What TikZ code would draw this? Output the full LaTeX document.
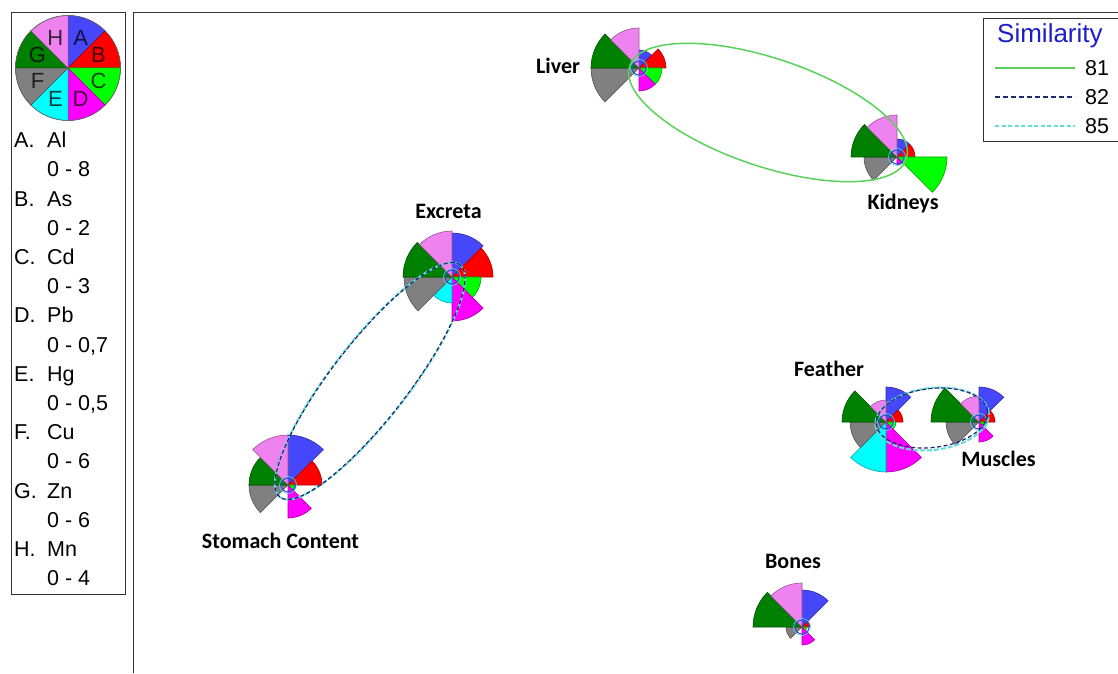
\documentclass[tikz,border=0pt]{standalone}
\usepackage{fontspec}
\usetikzlibrary{calc}
\setmainfont{Liberation Sans}
\newfontfamily\labelfont{Carlito}
\definecolor{segA}{RGB}{70,70,250}
\definecolor{segB}{RGB}{255,0,0}
\definecolor{segC}{RGB}{0,255,0}
\definecolor{segD}{RGB}{255,0,255}
\definecolor{segE}{RGB}{0,255,255}
\definecolor{segF}{RGB}{128,128,128}
\definecolor{segG}{RGB}{0,128,0}
\definecolor{segH}{RGB}{238,130,238}
\definecolor{simgreen}{RGB}{90,210,90}
\definecolor{simnavy}{RGB}{30,40,110}
\definecolor{simcyan}{RGB}{100,220,220}
\definecolor{ringblue}{RGB}{40,80,220}
\definecolor{simtitle}{RGB}{30,30,200}
\newcommand\segglyph[9]{%
  \foreach \r/\c [count=\i from 0] in {#2/segA,#3/segB,#4/segC,#5/segD,#6/segE,#7/segF,#8/segG,#9/segH}{%
    \ifdim\r pt>0pt
      \pgfmathsetmacro\sa{90-45*\i}
      \filldraw[fill=\c, draw=\c!65!black, line width=0.6pt] (#1) -- ++(\sa:\r) arc[start angle=\sa, delta angle=-45, radius=\r] -- cycle;
    \fi
  }%
  \draw[simcyan, line width=0.6pt] (#1) circle[radius=8.5];
  \draw[ringblue, line width=1pt] (#1) circle[radius=7];
}
\begin{document}
\begin{tikzpicture}[x=1pt,y=1pt,
  lbl/.style={font=\labelfont\bfseries\fontsize{22}{26}\selectfont, anchor=base, inner sep=0pt},
  legtxt/.style={font=\fontsize{21.5}{26}\selectfont, anchor=base west, inner sep=0pt},
  pieletter/.style={font=\fontsize{22}{24}\selectfont, inner sep=0pt},
  frame/.style={draw=black!80, line width=0.8pt},
  simA/.style={draw=simgreen, line width=1.5pt},
  simB/.style={draw=simnavy, line width=1.2pt, dash pattern=on 4pt off 2.5pt},
  simC/.style={draw=simcyan, line width=2pt, dash pattern=on 5pt off 2pt}]
\useasboundingbox (0,0) rectangle (1118,673);
\fill[white] (0,0) rectangle (1118,673);

% frames
\draw[frame] (133,0) -- (133,661) -- (1118,661);
\draw[frame] (11,79) rectangle (125,661);
\draw[frame] (1118,655) -- (983,655) -- (983,532) -- (1118,532);

% pie legend
\coordinate (pie) at (68,605);
\foreach \c/\L [count=\i from 0] in {segA/A,segB/B,segC/C,segD/D,segE/E,segF/F,segG/G,segH/H}{%
  \pgfmathsetmacro\sa{90-45*\i}
  \filldraw[fill=\c, draw=\c!60!black, line width=0.5pt] (pie) -- ++(\sa:52.5) arc[start angle=\sa, delta angle=-45, radius=52.5] -- cycle;
  \node[pieletter, text=\c!25!black] (pl\L) at ($(pie)+(\sa-22.5:33)$) {\L};
}
\draw[black!60, line width=0.6pt] (pie) circle[radius=52.5];

% legend text
\foreach \lab/\el/\rng [count=\k from 0] in {A./Al/{0 - 8},B./As/{0 - 2},C./Cd/{0 - 3},D./Pb/{0 - 0,7},E./Hg/{0 - 0,5},F./Cu/{0 - 6},G./Zn/{0 - 6},H./Mn/{0 - 4}}{%
  \pgfmathsetmacro\ya{673-(147.7+58.4*\k)}
  \pgfmathsetmacro\yb{673-(176.9+58.4*\k)}
  \node[legtxt] (lk\k) at (14,\ya) {\lab};
  \node[legtxt] (le\k) at (47,\ya) {\el};
  \node[legtxt] (lr\k) at (47,\yb) {\rng};
}

% similarity legend
\node[font=\fontsize{26}{30}\selectfont, text=simtitle, anchor=base west, inner sep=0pt] (simt) at (997,630) {Similarity};
\coordinate (sa1) at (995,605); \coordinate (sa2) at (1075,605);
\coordinate (sb1) at (995,576); \coordinate (sb2) at (1075,576);
\coordinate (sc1) at (995,547); \coordinate (sc2) at (1075,547);
\draw[draw=simgreen, line width=1.3pt] (sa1) -- (sa2);
\draw[draw=simnavy, line width=1.1pt, dash pattern=on 5pt off 3pt] (sb1) -- (sb2);
\draw[draw=simcyan, line width=1.4pt, dash pattern=on 4pt off 2.5pt] (sc1) -- (sc2);
\node[legtxt, anchor=west] (n81) at (1085,605) {81};
\node[legtxt, anchor=west] (n82) at (1085,576) {82};
\node[legtxt, anchor=west] (n85) at (1085,547) {85};

% glyph centres
\coordinate (liver) at (639,605);
\coordinate (kidneys) at (897,516);
\coordinate (excreta) at (452,396);
\coordinate (stomach) at (288,188);
\coordinate (feather) at (886,251);
\coordinate (muscles) at (979,251);
\coordinate (bones) at (802,46);

% glyphs (A B C D E F G H)
\segglyph{liver}{18}{27}{23}{23}{0}{48}{48}{40}
\segglyph{kidneys}{18}{18}{50}{8}{0}{33}{46}{42}
\segglyph{excreta}{44}{41}{29}{44}{26}{48}{49}{46}
\segglyph{stomach}{50}{34}{8}{33}{0}{39}{39}{50}
\segglyph{feather}{35}{17}{10}{50}{50}{36}{44}{22}
\segglyph{muscles}{35}{16}{8}{20}{0}{33}{48}{26}
\segglyph{bones}{37}{8}{5}{18}{0}{16}{49}{44}

% similarity ellipses
\coordinate (lkmid) at ($(liver)!0.5!(kidneys)$);
\coordinate (esmid) at ($(excreta)!0.5!(stomach)$);
\coordinate (fmmid) at (932,255);
\begin{scope}[shift={(lkmid)}, rotate=-18.6]
  \draw[simA] (0,0) ellipse[x radius=146, y radius=54];
\end{scope}
\begin{scope}[shift={(esmid)}, rotate=52.2]
  \draw[simC] (0,0) ellipse[x radius=147, y radius=38.5];
  \draw[simB] (0,0) ellipse[x radius=147, y radius=38];
\end{scope}
\begin{scope}[shift={(fmmid)}, rotate=6.7]
  \draw[simC] (0,-1) ellipse[x radius=57, y radius=31];
  \draw[simB] (0,0) ellipse[x radius=56, y radius=29.5];
\end{scope}

% labels
\node[lbl] (tliver) at (558,599) {Liver};
\node[lbl] (tkid) at (903,463) {Kidneys};
\node[lbl] (texc) at (448.5,454) {Excreta};
\node[lbl] (tsto) at (280.5,125) {Stomach Content};
\node[lbl] (tfea) at (829,297) {Feather};
\node[lbl] (tmus) at (998.5,207) {Muscles};
\node[lbl] (tbon) at (793,105) {Bones};
\end{tikzpicture}
\end{document}
